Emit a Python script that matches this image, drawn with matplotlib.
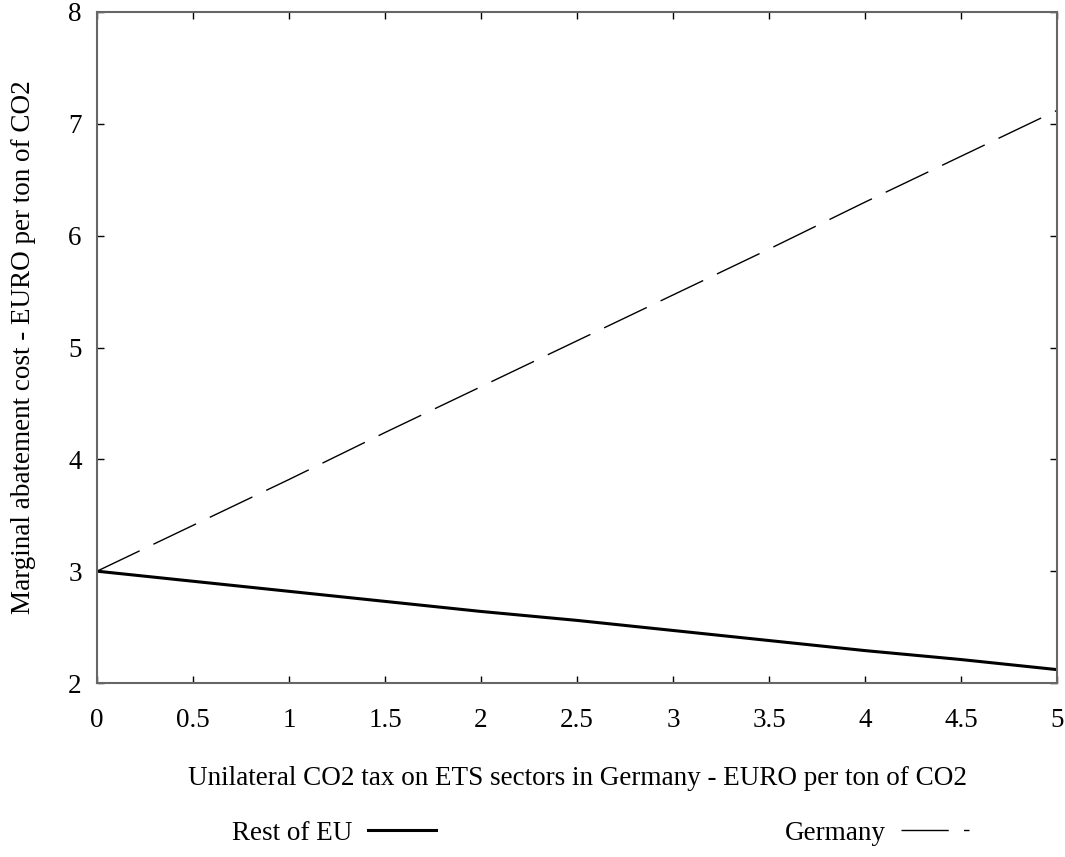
import numpy as np
import matplotlib.pyplot as plt

# data
tax = [0, 0.5, 1, 1.5, 2, 2.5, 3, 3.5, 4, 4.5, 5]
rest_of_eu = [3.0, 2.91, 2.82, 2.73, 2.64, 2.56, 2.47, 2.38, 2.29, 2.21, 2.12]
germany = [3.0, 3.41, 3.82, 4.24, 4.65, 5.06, 5.47, 5.88, 6.30, 6.71, 7.12]

plt.rcParams['font.family'] = ['Liberation Serif', 'DejaVu Serif']
plt.rcParams['font.size'] = 19.5

fig = plt.figure(figsize=(10.65, 8.57), dpi=100)
ax = fig.add_axes([0.0911, 0.203, 0.9014, 0.783])

ax.plot(tax, rest_of_eu, color='black', linewidth=2.2, label='Rest of EU')
ax.plot(tax, germany, color='black', linewidth=1.0, linestyle=(0, (34, 11)), label='Germany')

ax.set_xlim(0, 5)
ax.set_ylim(2, 8)
ax.set_xticks(np.arange(0, 5.01, 0.5))
ax.set_xticklabels(['0', '0.5', '1', '1.5', '2', '2.5', '3', '3.5', '4', '4.5', '5'])
ax.set_yticks(range(2, 9))

ax.tick_params(direction='in', length=5, width=1, top=True, right=True, color='black')
ax.tick_params(axis='x', pad=18)
ax.tick_params(axis='y', pad=11)
for s in ax.spines.values():
    s.set_color('#666666')
    s.set_linewidth(1.5)

ax.set_xlabel('Unilateral CO2 tax on ETS sectors in Germany - EURO per ton of CO2', labelpad=24)
ax.set_ylabel('Marginal abatement cost - EURO per ton of CO2', labelpad=23)

fig.legend(loc='center', bbox_to_anchor=(0.564, 0.028), ncol=2, markerfirst=False,
           frameon=False, handlelength=2.51, handletextpad=0.55, columnspacing=12.9)

fig.savefig('out.png', dpi=100)
